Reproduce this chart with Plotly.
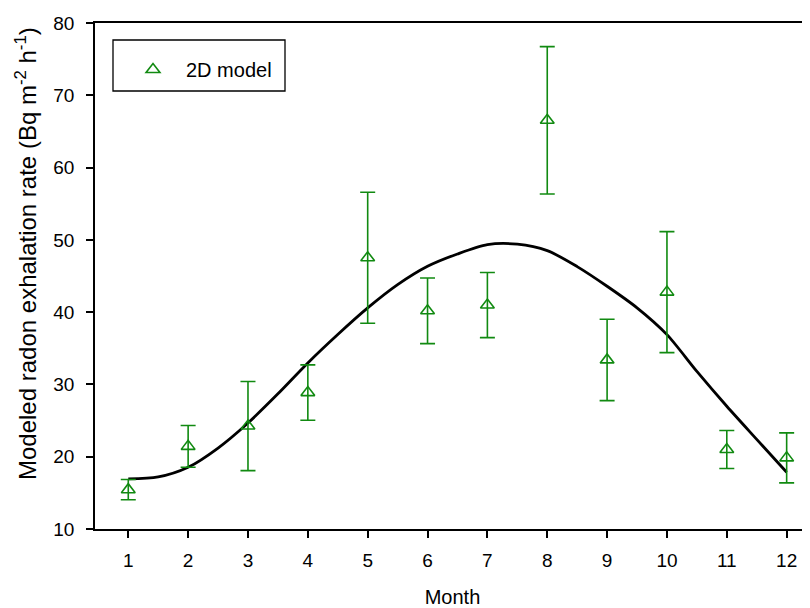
import plotly.graph_objects as go

months = list(range(1, 13))
model_2d = [15.44, 21.43, 24.24, 28.87, 47.52, 40.19, 40.98, 66.54, 33.39, 42.77, 20.99, 19.84]
model_2d_err = [1.40, 2.89, 6.16, 3.83, 9.06, 4.54, 4.50, 10.19, 5.63, 8.37, 2.63, 3.46]

curve_x = [1, 1.5, 2, 2.5, 3, 3.5, 4, 4.5, 5, 5.5, 6, 6.5, 7, 7.5, 8, 8.5, 9, 9.5, 10, 10.5, 11, 11.5, 12]
curve_y = [16.93, 17.2, 18.54, 21.2, 24.67, 28.7, 32.97, 36.9, 40.58, 43.8, 46.34, 48.05, 49.34, 49.4,
           48.51, 46.3, 43.58, 40.6, 36.89, 31.8, 26.98, 22.4, 17.85]

y_title = "Modeled radon exhalation rate (Bq m<sup>-2</sup> h<sup>-1</sup>)"
x_title = "Month"

green = "#118a11"
font_family = "Liberation Sans, Arial, sans-serif"

# page body has an 8px default margin, so the figure is 8px smaller than the window
W, H = 802, 600
L, T, B = 87, 15, 79
plot_w, plot_h = W - L, H - T - B

def px_x(win_x):
    return (win_x - 8 - L) / plot_w

def px_y(win_y):
    return (H - B - (win_y - 8)) / plot_h

fig = go.Figure()
fig.add_trace(go.Scatter(
    x=curve_x, y=curve_y, mode="lines",
    line=dict(color="black", width=2.8, shape="spline", smoothing=0.8),
    showlegend=False, hoverinfo="skip"))
fig.add_trace(go.Scatter(
    x=months, y=model_2d, mode="markers", name="2D model",
    marker=dict(symbol="triangle-up-open", size=12, color=green, line=dict(width=1.6, color=green)),
    error_y=dict(type="data", array=model_2d_err, visible=True, color=green, thickness=1.6, width=7.5)))

fig.update_layout(
    width=W, height=H,
    margin=dict(l=L, r=0, t=T, b=B),
    paper_bgcolor="white", plot_bgcolor="white",
    font=dict(family=font_family, size=19, color="black"),
    showlegend=True,
    legend=dict(x=px_x(120), y=px_y(50), xanchor="left", yanchor="top",
                bgcolor="rgba(0,0,0,0)", borderwidth=0, itemwidth=56,
                font=dict(size=20, family=font_family)),
    shapes=[dict(type="rect", xref="paper", yref="paper",
                 x0=px_x(113), x1=px_x(285), y0=px_y(91), y1=px_y(40),
                 line=dict(color="black", width=1.3), fillcolor="rgba(0,0,0,0)")],
    annotations=[dict(text=y_title, textangle=-90, xref="paper", yref="paper",
                      x=px_x(26), y=px_y(254), xanchor="center", yanchor="middle",
                      showarrow=False, font=dict(size=24, family=font_family))],
)
fig.update_xaxes(
    range=[0.444, 12.39], tickmode="array", tickvals=months, ticktext=[str(m) for m in months],
    showline=True, linecolor="black", linewidth=1.5, mirror=True,
    ticks="outside", ticklen=7, tickwidth=1.5, tickcolor="black", ticklabelstandoff=6,
    showgrid=False, zeroline=False,
    title=dict(text=x_title, standoff=20, font=dict(size=20)))
fig.update_yaxes(
    range=[10, 80], tickmode="array", tickvals=[10, 20, 30, 40, 50, 60, 70, 80],
    showline=True, linecolor="black", linewidth=1.5,
    ticks="outside", ticklen=7, tickwidth=1.5, tickcolor="black", ticklabelstandoff=8,
    showgrid=False, zeroline=False)

fig.write_html("out.html")
